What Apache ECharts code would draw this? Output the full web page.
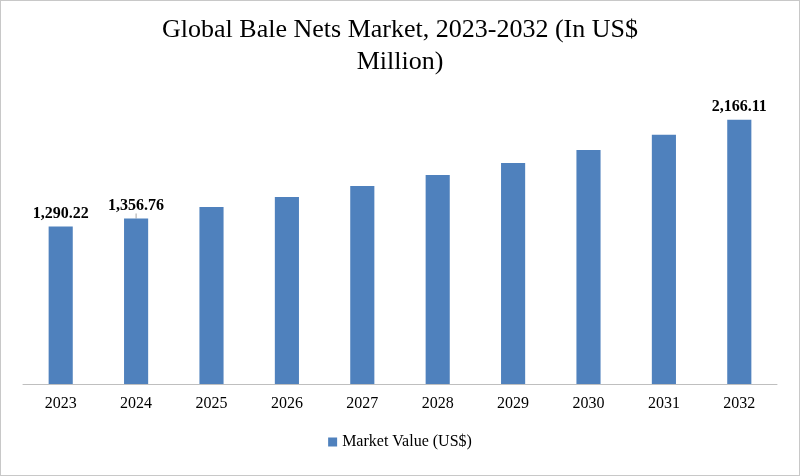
<!DOCTYPE html>
<html><head><meta charset="utf-8">
<script src="https://cdn.jsdelivr.net/npm/echarts@6/dist/echarts.min.js"></script>
<style>html,body{margin:0;padding:0;}#c{width:798px;height:474px;border:1px solid #c8c8c8;}</style>
</head><body><div id="c"></div>
<script>
const categories = ['2023','2024','2025','2026','2027','2028','2029','2030','2031','2032'];
const values = [1290.22,1356.76,1450,1532,1623,1713,1812,1919,2043,2166.11];
const labelled = {0:'1,290.22',1:'1,356.76',9:'2,166.11'};
const font = 'Liberation Serif';
const chart = echarts.init(document.getElementById('c'));
chart.setOption({
  textStyle:{fontFamily:font},
  title:{text:'Global Bale Nets Market, 2023-2032 (In US$\nMillion)',left:'center',top:8,
    textStyle:{fontFamily:font,fontSize:26,fontWeight:'normal',color:'#000',lineHeight:32}},
  legend:{bottom:20,itemWidth:9,itemHeight:9,icon:'rect',textStyle:{fontFamily:font,fontSize:16,color:'#000'}},
  grid:{left:22,right:22,top:78,bottom:91},
  xAxis:{type:'category',data:categories,axisTick:{show:false},
    axisLine:{lineStyle:{color:'#bfbfbf'}},
    axisLabel:{fontFamily:font,fontSize:16,color:'#000',margin:12}},
  yAxis:{type:'value',min:0,max:2500,show:false,splitLine:{show:false}},
  series:[{name:'Market Value (US$)',type:'bar',barWidth:'32%',
    itemStyle:{color:'#4f81bd'},
    data:values.map((v,i)=>{
      const d={value:v};
      if(labelled[i]!==undefined){
        d.label={show:true,position:'top',formatter:labelled[i],fontFamily:font,fontWeight:'bold',fontSize:16,color:'#000',
          offset:i===0?[-12,0]:(i===1?[0,-24]:[0,0])};
        if(i===1){d.labelLine={show:true,lineStyle:{color:'#a6a6a6'}};}
      }
      return d;
    }),
    labelLayout:function(p){return {};}
  }]
});
</script></body></html>
